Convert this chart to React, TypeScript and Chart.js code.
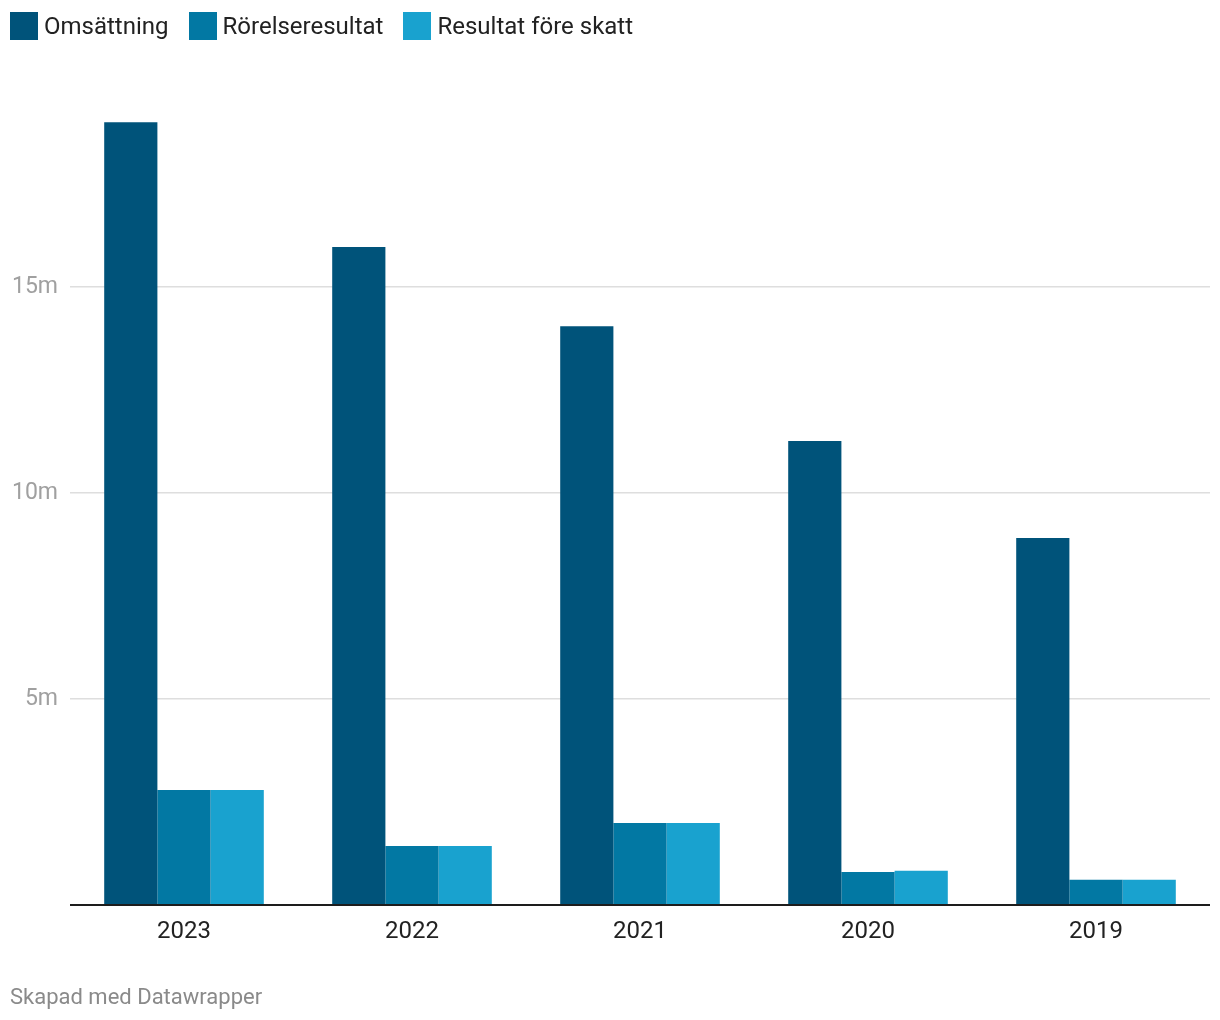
import React, { useEffect, useRef } from "react";
import { Chart, registerables } from "chart.js";

Chart.register(...registerables);

const categories = ["2023", "2022", "2021", "2020", "2019"];
const omsattning = [19.0, 15.97, 14.05, 11.26, 8.91];
const rorelseresultat = [2.79, 1.43, 1.99, 0.8, 0.61];
const resultatForeSkatt = [2.79, 1.43, 1.99, 0.83, 0.61];
const seriesNames = ["Omsättning", "Rörelseresultat", "Resultat före skatt"];
const seriesColors = ["#00537a", "#0278a3", "#19a2cf"];
const yTicks = [0, 5, 10, 15, 20];
const yLabels = ["", "5m", "10m", "15m", ""];

const FONT = "Roboto, 'Noto Sans', sans-serif";

export default function App() {
  const ref = useRef<HTMLCanvasElement | null>(null);

  useEffect(() => {
    document.body.style.margin = "0";
    const canvas = ref.current;
    if (!canvas) return;
    const chart = new Chart(canvas, {
      type: "bar",
      data: {
        labels: categories,
        datasets: [omsattning, rorelseresultat, resultatForeSkatt].map((d, i) => ({
          label: seriesNames[i],
          data: d,
          backgroundColor: seriesColors[i],
          borderWidth: 0,
          barPercentage: 1,
          categoryPercentage: 0.7,
        })),
      },
      options: {
        animation: false,
        responsive: false,
        maintainAspectRatio: false,
        layout: { padding: { top: 81, bottom: 75, left: 0, right: 10 } },
        plugins: {
          legend: { display: false },
          tooltip: { enabled: false },
        },
        scales: {
          x: {
            grid: { display: false },
            border: { display: false },
            ticks: {
              color: "#222222",
              font: { family: FONT, size: 24 },
              padding: 5,
            },
            afterFit: (s: any) => {
              s.height = 40;
            },
          },
          y: {
            min: 0,
            max: 20,
            afterBuildTicks: (s: any) => {
              s.ticks = yTicks.map((v) => ({ value: v }));
            },
            grid: {
              drawTicks: false,
              color: (c: any) =>
                c.tick && c.tick.value === 0
                  ? "#1d1d1d"
                  : c.tick && c.tick.value === 20
                  ? "rgba(0,0,0,0)"
                  : "#dedede",
              lineWidth: (c: any) => (c.tick && c.tick.value === 0 ? 2 : 1.5),
            },
            border: { display: false },
            ticks: {
              color: "#a0a0a0",
              font: { family: FONT, size: 23 },
              padding: 12,
              callback: (v: any) => {
                const idx = yTicks.indexOf(Number(v));
                return idx >= 0 ? yLabels[idx] : "";
              },
            },
            afterFit: (s: any) => {
              s.width = 70;
            },
          },
        },
      },
    });
    return () => chart.destroy();
  }, []);

  return (
    <div style={{ position: "relative", width: 1220, height: 1020, fontFamily: FONT, background: "#fff" }}>
      <canvas ref={ref} width={1220} height={1020} style={{ position: "absolute", left: 0, top: 0, width: 1220, height: 1020 }} />
      <div style={{ position: "absolute", left: 10, top: 12, display: "flex", alignItems: "center", height: 28 }}>
        {seriesNames.map((n, i) => (
          <div key={n} style={{ display: "flex", alignItems: "center", marginRight: 20 }}>
            <div style={{ width: 28, height: 28, background: seriesColors[i], marginRight: 6 }} />
            <span style={{ fontSize: 24, color: "#222", lineHeight: "28px" }}>{n}</span>
          </div>
        ))}
      </div>
      <div style={{ position: "absolute", left: 10, top: 984, fontSize: 22, color: "#8a8a8a", lineHeight: "26px" }}>
        Skapad med Datawrapper
      </div>
    </div>
  );
}
